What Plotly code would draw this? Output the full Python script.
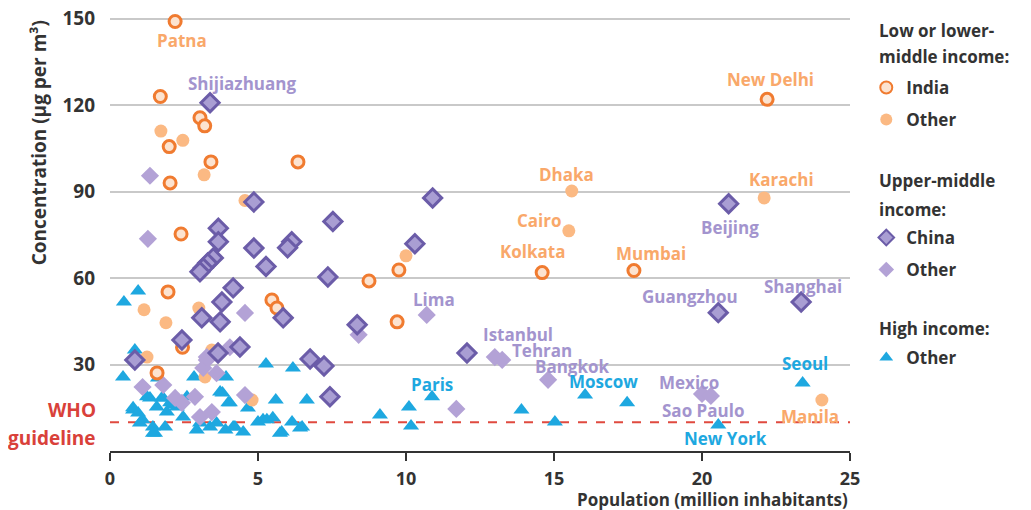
import plotly.graph_objects as go

# ---------------- data ----------------
india_x = [2.2, 1.7, 3.04, 3.2, 2.0, 3.41, 6.35, 2.03, 2.4, 22.2, 14.6, 17.7, 8.75, 9.76, 9.7, 1.96, 5.47, 5.64, 1.59, 2.45]
india_y = [149, 123, 115.6, 112.8, 105.6, 100.3, 100.3, 93, 75.3, 122, 61.9, 62.6, 59, 62.8, 44.8, 55.2, 52.4, 49.6, 27.1, 36]

lowoth_x = [1.72, 2.46, 3.18, 4.56, 15.6, 15.5, 22.1, 10.0, 1.15, 1.89, 3.0, 1.25, 3.21, 3.44, 4.8, 24.05]
lowoth_y = [111, 107.8, 95.8, 86.9, 90.2, 76.4, 87.8, 67.7, 49, 44.5, 49.6, 32.6, 25.7, 35, 17.7, 17.7]

china_x = [3.38, 4.86, 7.53, 10.9, 20.9, 10.3, 3.66, 3.66, 4.86, 6.14, 6.0, 3.49, 3.3, 3.15, 3.04, 5.27, 7.36,
           4.16, 3.78, 3.1, 3.72, 5.85, 2.43, 4.39, 3.65, 0.84, 6.76, 7.23, 7.43, 8.35, 12.06, 20.55, 23.35]
china_y = [120.8, 86.4, 79.6, 87.8, 85.8, 71.9, 77.3, 72.6, 70.4, 72.6, 70.5, 67, 65.2, 63.5, 62.2, 64, 60.4,
           56.6, 51.7, 46.2, 44.8, 46.2, 38.5, 36.1, 34, 31.6, 31.9, 29.5, 18.8, 43.8, 34, 48, 51.7]

umoth_x = [1.35, 1.28, 8.4, 10.7, 13.0, 13.25, 14.8, 11.7, 20.0, 20.3, 4.56, 3.27, 3.15, 3.6, 1.1, 1.8, 2.2,
           2.43, 2.87, 3.04, 3.44, 4.05, 4.56, 3.27]
umoth_y = [95.5, 73.6, 40.3, 47.2, 32.6, 31.6, 24.7, 14.6, 19.8, 19.1, 47.9, 31.6, 28.8, 27, 22.2, 22.9, 18.4,
           16.7, 18.8, 11.8, 13.5, 36, 19.4, 32.6]

high_x = [0.47, 0.95, 0.84, 0.44, 1.62, 2.84, 3.92, 5.27, 6.18, 5.6, 6.65, 4.66, 3.72, 2.6, 0.78,
          1.35, 1.75, 0.78, 1.58, 2.1, 3.8, 4.0, 1.1, 1.45, 1.86, 1.52, 2.47, 2.93, 3.38, 3.9, 0.95,
          4.05, 4.22, 4.5, 5.0, 5.17, 5.5, 5.74, 6.15, 6.42,
          1.25, 1.8, 2.03, 1.92, 2.26, 1.01, 1.45, 3.04, 3.6, 4.16, 5.3, 5.8, 6.49,
          9.12, 10.1, 10.17, 10.88, 13.9, 15.03, 16.05, 17.47, 23.4, 20.55]
high_y = [51.7, 55.5, 35, 25.7, 25.3, 25.7, 25.7, 30.2, 28.8, 17.7, 17.7, 14.9, 20.5, 18.8, 14.2,
          18.4, 18.4, 15, 15.3, 16, 20.1, 16.7, 10.8, 8.3, 8.3, 6.2, 11.8, 7.3, 8.3, 7.3, 13.2,
          16.7, 8.3, 6.6, 10.1, 10.8, 11.5, 6.2, 10.1, 8,
          18.8, 18.4, 16.7, 13.5, 15.3, 9.7, 6.2, 9.7, 9.7, 8.3, 10.8, 6.6, 8.3,
          12.5, 15.3, 8.7, 18.8, 14.2, 10.1, 19.4, 16.7, 23.6, 9]

who_guideline = 10

x_ticks = [0, 5, 10, 15, 20, 25]
y_ticks = [30, 60, 90, 120, 150]

# city labels: (name, series, index into series, x offset px, y offset px)
labels = [
    ("Patna", "india", 0, 7, -19),
    ("New Delhi", "india", 9, 3, 20),
    ("Kolkata", "india", 10, -10, 21),
    ("Mumbai", "india", 11, 17, 17),
    ("Dhaka", "lowoth", 4, -5, 17),
    ("Cairo", "lowoth", 5, -29, 10),
    ("Karachi", "lowoth", 6, 17, 18),
    ("Manila", "lowoth", 15, -12, -17),
    ("Shijiazhuang", "china", 0, 32, 19),
    ("Beijing", "china", 4, 1, -24),
    ("Guangzhou", "china", 31, -28, 16),
    ("Shanghai", "china", 32, 2, 15),
    ("Lima", "umoth", 3, 7, 15),
    ("Istanbul", "umoth", 4, 23, 23),
    ("Tehran", "umoth", 5, 40, 9),
    ("Bangkok", "umoth", 6, 24, 13),
    ("Mexico", "umoth", 8, -13, 11),
    ("Sao Paulo", "umoth", 9, -8, -15),
    ("Paris", "high", 56, 0, 12),
    ("Moscow", "high", 59, 18, 14),
    ("Seoul", "high", 61, 2, 19),
    ("New York", "high", 62, 7, -13),
]

# legend group headings (one text line each)
legend_titles = ["Low or lower-", "middle income:", "Upper-middle", "income:", "High income:"]

# ---------------- styles ----------------
C_INDIA = "#F07B30"
C_LOWOTH = "#FBB983"
C_CHINA = "#6B5CA8"
C_UMOTH = "#B3A2D6"
C_HIGH = "#1EA8E0"
LBL_ORANGE = "#F9A86A"
LBL_PURPLE = "#A394CE"
LBL_BLUE = "#1EA8E0"
TXT = "#333333"
FONT = "Open Sans"

# layout geometry (the page body adds an 8px offset)
W, H = 1023, 502
ML, MT, PW, PH = 102, 2, 740, 441


def py_to_paper(py):
    # py: pixel row in the final screenshot
    return 1 - (py - 8 - MT) / PH


series = {
    "india": (india_x, india_y, LBL_ORANGE),
    "lowoth": (lowoth_x, lowoth_y, LBL_ORANGE),
    "china": (china_x, china_y, LBL_PURPLE),
    "umoth": (umoth_x, umoth_y, LBL_PURPLE),
    "high": (high_x, high_y, LBL_BLUE),
}

fig = go.Figure()

fig.add_trace(go.Scatter(
    x=high_x, y=high_y, mode="markers", name="Other", legend="legend5",
    marker=dict(symbol="triangle-up", size=14, color=C_HIGH)))
fig.add_trace(go.Scatter(
    x=lowoth_x, y=lowoth_y, mode="markers", name="Other", legend="legend2",
    marker=dict(symbol="circle", size=13, color=C_LOWOTH)))
fig.add_trace(go.Scatter(
    x=umoth_x, y=umoth_y, mode="markers", name="Other", legend="legend4",
    marker=dict(symbol="diamond", size=14, color=C_UMOTH)))
fig.add_trace(go.Scatter(
    x=india_x, y=india_y, mode="markers", name="India", legend="legend",
    marker=dict(symbol="circle", size=12, color="#FCE3D0", line=dict(color=C_INDIA, width=3))))
fig.add_trace(go.Scatter(
    x=china_x, y=china_y, mode="markers", name="China", legend="legend3",
    marker=dict(symbol="diamond", size=14, color="#A99ED3", line=dict(color=C_CHINA, width=3))))

# WHO guideline line
fig.add_hline(y=who_guideline, line=dict(color="#E04A3F", width=2, dash="dash"), layer="below")

# city labels
for name, s, i, dx, dy in labels:
    xs, ys, col = series[s]
    fig.add_annotation(x=xs[i], y=ys[i], text=name, showarrow=False,
                       xshift=dx, yshift=dy,
                       font=dict(family=FONT, size=17, color=col, weight="bold"))

# WHO guideline text
who_font = dict(family=FONT, size=19, color="#D9413A", weight="bold")
fig.add_annotation(xref="paper", yref="y", x=-0.016, y=who_guideline, xanchor="right",
                   text="WHO", showarrow=False, yshift=12, font=who_font)
fig.add_annotation(xref="paper", yref="y", x=-0.016, y=who_guideline, xanchor="right",
                   text="guideline", showarrow=False, yshift=-16, font=who_font)

# axis titles as annotations
fig.add_annotation(xref="paper", yref="paper", x=1.0, y=0, xanchor="right", yanchor="top",
                   yshift=-35, text="Population (million inhabitants)", showarrow=False,
                   font=dict(family=FONT, size=17, color=TXT, weight="bold"))
fig.add_annotation(xref="paper", yref="paper", x=-0.096, y=0.70, xanchor="center", yanchor="middle",
                   textangle=-90, text="Concentration (µg per m³)", showarrow=False,
                   font=dict(family=FONT, size=19, color=TXT, weight="bold"))

# legend headings
leg_font = dict(family=FONT, size=17, color=TXT, weight="bold")
title_rows = [30, 57, 180, 209, 328]
for txt, row in zip(legend_titles, title_rows):
    fig.add_annotation(xref="paper", yref="paper", x=(877 - 8 - ML) / PW, y=py_to_paper(row),
                       xanchor="left", yanchor="middle", text=txt, showarrow=False, font=leg_font)

leg_common = dict(xanchor="left", yanchor="middle", font=leg_font,
                  bgcolor="rgba(0,0,0,0)", itemsizing="constant")
lx = 1.022

fig.update_layout(
    width=W, height=H,
    margin=dict(l=ML, r=W - ML - PW, t=MT, b=H - MT - PH),
    paper_bgcolor="white", plot_bgcolor="white",
    font=dict(family=FONT, color=TXT),
    showlegend=True,
    legend=dict(x=lx, y=py_to_paper(88), **leg_common),
    legend2=dict(x=lx, y=py_to_paper(120), **leg_common),
    legend3=dict(x=lx, y=py_to_paper(238), **leg_common),
    legend4=dict(x=lx, y=py_to_paper(270), **leg_common),
    legend5=dict(x=lx, y=py_to_paper(358), **leg_common),
    xaxis=dict(range=[0, 25], tickvals=x_ticks, showgrid=False, zeroline=False, automargin=False,
               showline=True, linecolor=TXT, linewidth=2,
               ticks="outside", ticklen=8, tickwidth=2, tickcolor=TXT, ticklabelstandoff=2,
               ticklabeloverflow="allow",
               tickfont=dict(family=FONT, size=18, color=TXT, weight="bold")),
    yaxis=dict(range=[0, 153], tickvals=y_ticks, showgrid=True, gridcolor="#C9C9C9", gridwidth=2,
               zeroline=False, showline=False, ticks="", automargin=False, ticklabelstandoff=14,
               ticklabeloverflow="allow",
               tickfont=dict(family=FONT, size=19, color=TXT, weight="bold")),
)

fig.write_html("out.html")
